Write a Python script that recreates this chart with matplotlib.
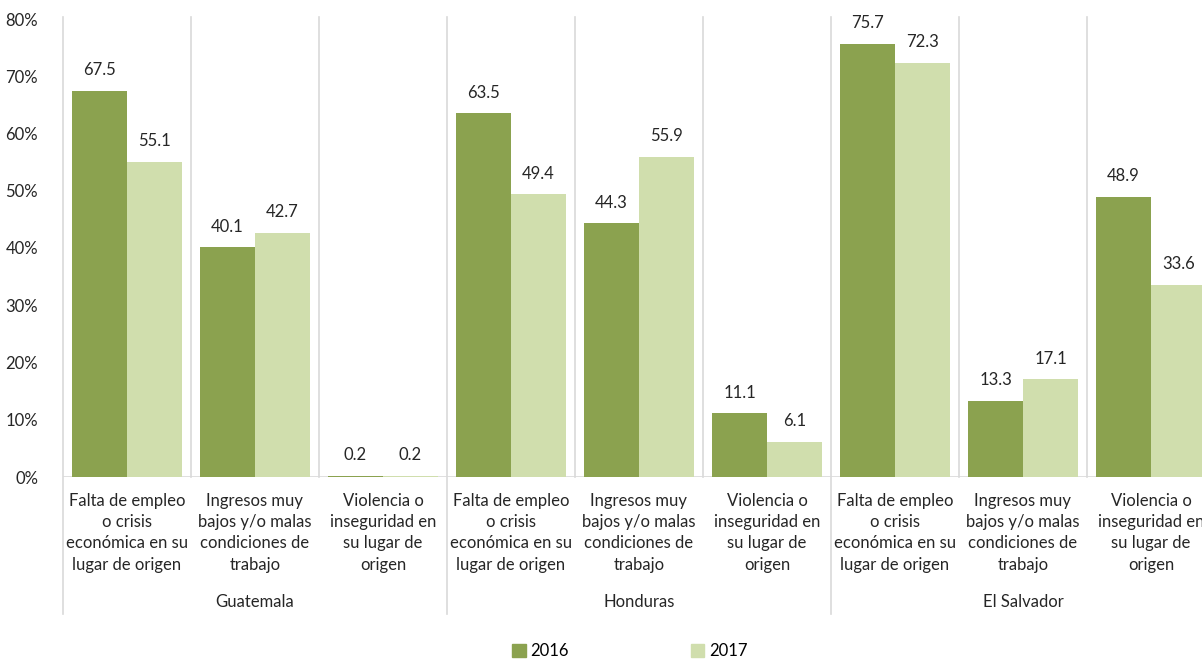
import matplotlib
matplotlib.use("Agg")
import matplotlib.pyplot as plt
from matplotlib.patches import Patch
from matplotlib.lines import Line2D

plt.rcParams["font.family"] = ["Lato", "DejaVu Sans"]

# ── Data ──────────────────────────────────────────────
countries = ["Guatemala", "Honduras", "El Salvador"]
motivos = [
    "Falta de empleo\no crisis\neconómica en su\nlugar de origen",
    "Ingresos muy\nbajos y/o malas\ncondiciones de\ntrabajo",
    "Violencia o\ninseguridad en\nsu lugar de\norigen",
]
vals_2016 = [67.5, 40.1, 0.2, 63.5, 44.3, 11.1, 75.7, 13.3, 48.9]
vals_2017 = [55.1, 42.7, 0.2, 49.4, 55.9, 6.1, 72.3, 17.1, 33.6]
yticks = [0, 10, 20, 30, 40, 50, 60, 70, 80]

c16 = "#8BA24F"
c17 = "#D0DEAD"
sep = "#D9D9D9"

W, H = 1202, 660
fig = plt.figure(figsize=(W / 100, H / 100), dpi=100)
# plot area runs past the right edge, as in the source image
ax = fig.add_axes([63 / W, 183 / H, 1152 / W, 458 / H])

n = len(vals_2016)
xs = list(range(n))
bw = 0.43
ax.bar([x + 0.5 - bw / 2 for x in xs], vals_2016, width=bw, color=c16, zorder=2)
ax.bar([x + 0.5 + bw / 2 for x in xs], vals_2017, width=bw, color=c17, zorder=2)

for x, v in zip(xs, vals_2016):
    ax.text(x + 0.5 - bw / 2, v + 2.2, f"{v:.1f}", ha="center", va="bottom",
            fontsize=12, color="#262626")
for x, v in zip(xs, vals_2017):
    ax.text(x + 0.5 + bw / 2, v + 2.2, f"{v:.1f}", ha="center", va="bottom",
            fontsize=12, color="#262626")

ax.set_xlim(0, n)
ax.set_ylim(0, 80)
ax.set_yticks(yticks)
ax.set_yticklabels([f"{t}%" for t in yticks], fontsize=12, color="#262626")
ax.tick_params(axis="y", length=0, pad=18)
ax.set_xticks([])
for s in ax.spines.values():
    s.set_visible(False)

# baseline and separators
ax.axhline(0, color=sep, lw=1.2, zorder=1)
for i in range(n):
    low = -0.3 if i % 3 == 0 else 0
    ax.add_line(Line2D([i, i], [low, 1.005], transform=ax.get_xaxis_transform(),
                       color=sep, lw=1.2, clip_on=False))

# category labels
for i in range(n):
    ax.text(i + 0.5, -0.035, motivos[i % 3], transform=ax.get_xaxis_transform(),
            ha="center", va="top", fontsize=12, color="#262626", linespacing=1.4)
for g, name in enumerate(countries):
    ax.text(g * 3 + 1.5, -0.273, name, transform=ax.get_xaxis_transform(),
            ha="center", va="center", fontsize=12, color="#262626")

handles = [Patch(color=c16, label="2016"), Patch(color=c17, label="2017")]
fig.legend(handles=handles, loc="center", bbox_to_anchor=(630 / W, 1 - 651 / H),
           ncol=2, frameon=False, fontsize=12, handlelength=0.8, handleheight=0.8,
           handletextpad=0.3, columnspacing=7.3)

fig.savefig("out.png", dpi=100)
